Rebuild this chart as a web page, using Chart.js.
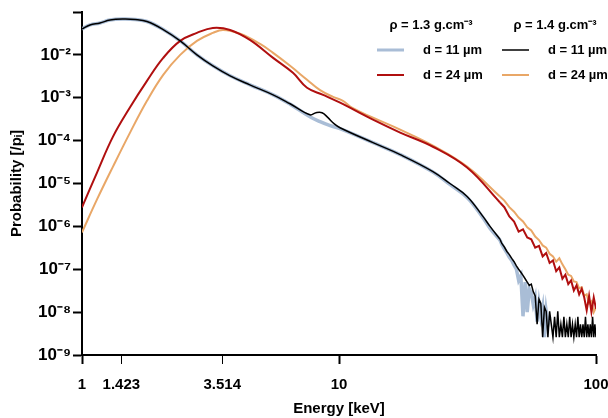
<!DOCTYPE html>
<html><head><meta charset="utf-8">
<script src="https://cdn.jsdelivr.net/npm/chart.js@4/dist/chart.umd.min.js"></script>
<style>html,body{margin:0;padding:0;background:#fff}#wrap{width:608px;height:418px}</style>
</head><body><div id="wrap"><canvas id="c" width="608" height="418"></canvas></div>
<script>
// ---- tick values / labels ----
const xTickValues = [1, 1.423, 3.514, 10, 100];
const xTickLabels = ['1', '1.423', '3.514', '10', '100'];
const yTickValues = [1e-9, 1e-8, 1e-7, 1e-6, 1e-5, 1e-4, 1e-3, 1e-2, 1e-1];
const yTickLabels = ['10⁻⁹', '10⁻⁸', '10⁻⁷', '10⁻⁶', '10⁻⁵', '10⁻⁴', '10⁻³', '10⁻²', ''];

// ---- legend text ----
const groupNames = ['ρ = 1.3 g.cm⁻³', 'ρ = 1.4 g.cm⁻³'];
const seriesNames = ['d = 11 µm', 'd = 24 µm', 'd = 11 µm', 'd = 24 µm'];

// ---- series: rho 1.3, d 11 (light blue) ----
const blueE = [1, 1.074, 1.175, 1.285, 1.444, 1.61, 1.79, 2.07, 2.41, 2.80, 3.23, 3.77, 4.50, 5.54, 6.45, 7.71, 8.44, 9.24, 10.09, 13.56, 17.3, 23.2, 27.0, 31.5, 36.3, 38.7, 42.3];
const blueP = [4.03e-2, 4.99e-2, 5.55e-2, 6.5e-2, 6.87e-2, 6.7e-2, 6.0e-2, 3.9e-2, 2.12e-2, 1.0e-2, 5.55e-3, 3.25e-3, 2.0e-3, 1.17e-3, 7.1e-4, 3.6e-4, 2.77e-4, 2.23e-4, 1.9e-4, 8.97e-5, 4.72e-5, 1.85e-5, 9.5e-6, 4.7e-6, 1.6e-6, 9.0e-7, 4.8e-7];
const blueTailE = [43, 44, 45, 46, 47, 48, 49, 50, 51, 52, 53, 54, 55, 56, 57, 58, 59, 60, 61, 62, 63, 64, 65, 66];
const blueTailP = [3.8e-7, 3.0e-7, 2.4e-7, 1.9e-7, 1.6e-7, 1.25e-7, 1.0e-7, 5.5e-8, 7.0e-8, 8.0e-9, 5.0e-8, 1.0e-8, 3.5e-8, 2.8e-8, 1.5e-8, 2.2e-8, 6.0e-9, 1.6e-8, 7.8e-9, 1.3e-8, 2.6e-9, 1.04e-8, 5.2e-9, 7.8e-9];

// ---- series: rho 1.3, d 24 (red) ----
const redE = [1, 1.144, 1.320, 1.538, 1.79, 2.07, 2.41, 2.80, 3.23, 3.77, 4.50, 5.54, 6.62, 7.51, 8.67, 10.1, 13.56, 17.3, 23.2, 31.5, 42.3];
const redP = [2.77e-6, 1.80e-5, 1.24e-4, 6.0e-4, 2.48e-3, 8.5e-3, 2.12e-2, 3.25e-2, 4.25e-2, 3.81e-2, 2.23e-2, 8.5e-3, 3.81e-3, 1.71e-3, 1.17e-3, 7.66e-4, 3.08e-4, 1.54e-4, 7.2e-5, 2.35e-5, 3.61e-6];
const redTailE = [44, 46, 48, 50, 52, 54, 56, 58, 60, 62, 64, 66, 68, 70, 72, 74, 76, 78, 80, 82, 84, 86, 88, 90, 92, 94, 96, 98, 100];
const redTailP = [2.8e-6, 1.7e-6, 1.3e-6, 7.5e-7, 8.5e-7, 5.5e-7, 5.0e-7, 3.2e-7, 3.5e-7, 2.0e-7, 2.4e-7, 1.4e-7, 1.6e-7, 9.0e-8, 1.1e-7, 6.0e-8, 7.5e-8, 4.5e-8, 5.5e-8, 3.2e-8, 4.2e-8, 2.6e-8, 3.5e-8, 2.2e-8, 1.1e-8, 2.4e-8, 1.0e-8, 2.2e-8, 1.2e-8];

// ---- series: rho 1.4, d 11 (black) ----
const blackE = [1, 1.074, 1.175, 1.285, 1.444, 1.61, 1.79, 2.07, 2.41, 2.80, 3.23, 3.77, 4.50, 5.54, 6.45, 7.71, 8.14, 8.59, 9.06, 9.56, 10.09, 13.56, 17.3, 23.2, 27.0, 31.5, 36.3, 38.7, 42.3];
const blackP = [4.03e-2, 4.99e-2, 5.55e-2, 6.5e-2, 6.87e-2, 6.7e-2, 6.0e-2, 3.9e-2, 2.12e-2, 1.0e-2, 5.55e-3, 3.25e-3, 2.0e-3, 1.17e-3, 7.25e-4, 4.0e-4, 4.48e-4, 4.48e-4, 3.43e-4, 2.49e-4, 2.0e-4, 8.97e-5, 4.72e-5, 1.90e-5, 1.0e-5, 4.99e-6, 1.71e-6, 1.0e-6, 5.0e-7];
const blackTailE = [43, 44, 45, 46, 47, 48, 49, 50, 51, 52, 53, 54, 55, 56, 57, 58, 59, 60, 61, 62, 63, 64, 65, 66, 67, 68, 69, 70, 71, 72, 73, 74, 75, 76, 77, 78, 79, 80,
  81, 82, 83, 84, 85, 86, 87, 88, 89, 90, 91, 92, 93, 94, 95, 96, 97, 98, 99, 100];
const blackTailP = [4.0e-7, 3.3e-7, 2.6e-7, 2.2e-7, 1.8e-7, 1.5e-7, 1.2e-7, 1.0e-7, 8.5e-8, 7.2e-8, 6.0e-8, 5.0e-8, 4.2e-8, 4.5e-8, 3.0e-8, 2.4e-8, 5.2e-9, 2.0e-8, 1.6e-8, 2.6e-9, 1.3e-8, 1.04e-8, 2.6e-9, 1.04e-8, 5.2e-9, 2.6e-9, 7.8e-9, 2.6e-9, 1.04e-8, 2.6e-9, 5.2e-9, 2.6e-9, 7.8e-9, 2.6e-9, 5.2e-9, 2.6e-9, 7.8e-9, 2.6e-9,
  5.2e-9, 2.6e-9, 5.2e-9, 2.6e-9, 7.8e-9, 2.6e-9, 5.2e-9, 2.6e-9, 5.2e-9, 2.6e-9, 7.8e-9, 2.6e-9, 5.2e-9, 2.6e-9, 5.2e-9, 2.6e-9, 7.8e-9, 2.6e-9, 5.2e-9, 2.6e-9];

// ---- series: rho 1.4, d 24 (orange) ----
const orangeE = [1, 1.144, 1.320, 1.538, 1.79, 2.07, 2.41, 2.80, 3.23, 3.54, 4.12, 4.93, 5.54, 6.45, 7.51, 8.44, 9.48, 10.36, 11.23, 13.56, 17.3, 23.2, 31.5, 42.3];
const orangeP = [7.24e-7, 4.25e-6, 2.48e-5, 1.54e-4, 8.5e-4, 3.43e-3, 1.0e-2, 2.12e-2, 3.25e-2, 3.81e-2, 3.1e-2, 1.8e-2, 1.11e-2, 5.55e-3, 2.63e-3, 1.5e-3, 1.05e-3, 8.5e-4, 5.85e-4, 3.43e-4, 1.80e-4, 7.66e-5, 2.48e-5, 4.99e-6];
const orangeTailE = [44, 46, 48, 50, 52, 54, 56, 58, 60, 62, 64, 66, 68, 70, 72, 74, 76, 78, 80, 82, 84, 86, 88, 90, 92, 94, 96, 98, 100];
const orangeTailP = [4.0e-6, 2.8e-6, 2.2e-6, 1.6e-6, 1.3e-6, 9.5e-7, 8.0e-7, 5.8e-7, 4.8e-7, 3.6e-7, 3.2e-7, 2.3e-7, 2.0e-7, 1.5e-7, 1.8e-7, 1.3e-7, 1.0e-7, 7.5e-8, 7.0e-8, 5.2e-8, 5.0e-8, 3.6e-8, 3.8e-8, 2.4e-8, 2.6e-8, 1.6e-8, 1.8e-8, 1.0e-8, 1.3e-8];

const FONT = '"Liberation Sans", Arial, Helvetica, sans-serif';
const pts = (E, P) => E.map((e, i) => ({x: e, y: P[i]}));
// tail starts at the last point of the smooth part so the line is continuous
const tailPts = (E, P, TE, TP) => [{x: E[E.length - 1], y: P[P.length - 1]}].concat(pts(TE, TP));

const styles = [
  {color: '#a9bdd6', width: 3.5, order: 8},
  {color: '#b00f0f', width: 2, order: 4},
  {color: '#000000', width: 1.5, order: 2},
  {color: '#e9a767', width: 2, order: 6}
];
const mk = (label, data, s, tension, orderShift) => ({label, data, borderColor: s.color, borderWidth: s.width, tension, order: s.order - orderShift});

const datasets = [
  mk(seriesNames[0], pts(blueE, blueP), styles[0], 0.4, 0),
  mk(seriesNames[1], pts(redE, redP), styles[1], 0.4, 0),
  mk(seriesNames[2], pts(blackE, blackP), styles[2], 0.4, 0),
  mk(seriesNames[3], pts(orangeE, orangeP), styles[3], 0.4, 0),
  mk(seriesNames[0], tailPts(blueE, blueP, blueTailE, blueTailP), styles[0], 0, 1),
  mk(seriesNames[1], tailPts(redE, redP, redTailE, redTailP), styles[1], 0, 1),
  mk(seriesNames[2], tailPts(blackE, blackP, blackTailE, blackTailP), styles[2], 0, 1),
  mk(seriesNames[3], tailPts(orangeE, orangeP, orangeTailE, orangeTailP), styles[3], 0, 1)
];

const legendPlugin = {
  id: 'groupLegend',
  afterDraw(chart) {
    const ctx = chart.ctx;
    const ds = chart.data.datasets;
    ctx.save();
    ctx.fillStyle = '#000';
    ctx.textBaseline = 'middle';
    ctx.font = 'bold 13px ' + FONT;
    ctx.textAlign = 'center';
    ctx.fillText(groupNames[0], 431, 25);
    ctx.fillText(groupNames[1], 555, 25);
    const cols = [377, 502];
    const rows = [50, 75];
    const map = [[0, 1], [2, 3]];
    ctx.textAlign = 'left';
    for (let c = 0; c < 2; c++) {
      for (let r = 0; r < 2; r++) {
        const d = ds[map[c][r]];
        ctx.strokeStyle = d.borderColor;
        ctx.lineWidth = Math.min(d.borderWidth, 3);
        ctx.beginPath();
        ctx.moveTo(cols[c], rows[r]);
        ctx.lineTo(cols[c] + 27, rows[r]);
        ctx.stroke();
        ctx.fillText(d.label, cols[c] + 46, rows[r]);
      }
    }
    ctx.restore();
  }
};

new Chart(document.getElementById('c'), {
  type: 'line',
  data: {datasets},
  plugins: [legendPlugin],
  options: {
    responsive: false,
    animation: false,
    devicePixelRatio: 1,
    layout: {padding: {top: 12, right: 12, left: 0, bottom: 0}},
    plugins: {legend: {display: false}, tooltip: {enabled: false}},
    elements: {point: {radius: 0}, line: {fill: false, capBezierPoints: true}},
    scales: {
      x: {
        type: 'logarithmic', min: 1, max: 100,
        afterBuildTicks: s => { s.ticks = xTickValues.map(v => ({value: v})); },
        afterFit: s => { s.height = 63; s.paddingLeft = 0; s.paddingRight = 0; },
        ticks: {
          autoSkip: false, maxRotation: 0, minRotation: 0, padding: 12, color: '#000',
          font: {family: FONT, size: 15, weight: 'bold'},
          callback: (v, i) => xTickLabels[i]
        },
        grid: {drawOnChartArea: false, drawTicks: true, tickLength: 9, tickColor: '#000',
          tickWidth: ctx => (ctx.tick && (ctx.tick.value === 1.423 || ctx.tick.value === 3.514)) ? 1 : 2},
        border: {display: true, color: '#000', width: 2},
        title: {display: true, text: 'Energy [keV]', color: '#000', padding: {top: 0, bottom: 0},
          font: {family: FONT, size: 15, weight: 'bold'}}
      },
      y: {
        type: 'logarithmic', min: 1e-9, max: 1e-1,
        afterBuildTicks: s => { s.ticks = yTickValues.map(v => ({value: v})); },
        afterFit: s => { s.width = 82; s.paddingTop = 0; s.paddingBottom = 0; },
        ticks: {
          autoSkip: false, padding: 2, color: '#000',
          font: {family: FONT, size: 17, weight: 'bold'},
          callback: (v, i) => yTickLabels[i]
        },
        grid: {drawOnChartArea: false, drawTicks: true, tickLength: 9, tickColor: '#000', tickWidth: 2},
        border: {display: true, color: '#000', width: 2},
        title: {display: true, text: 'Probability [/pᵢ]', color: '#000', padding: {top: 8, bottom: 0},
          font: {family: FONT, size: 15, weight: 'bold'}}
      }
    }
  }
});
</script>
</body></html>
